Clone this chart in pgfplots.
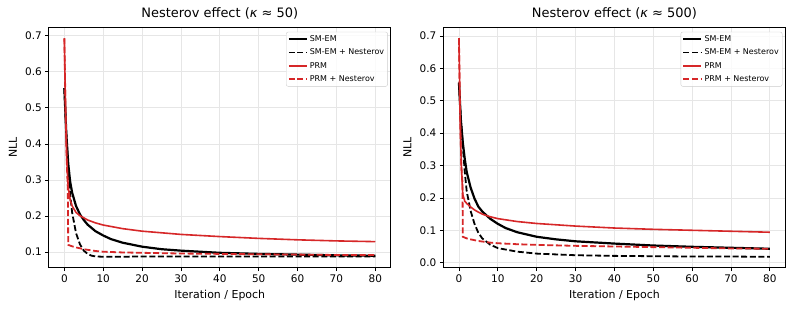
\documentclass[border=0pt]{standalone}
\usepackage{fontspec}
\setmainfont{DejaVu Sans}
\usepackage{pgfplots}
\pgfplotsset{compat=1.18}
\definecolor{tred}{HTML}{D62728}
\definecolor{gridc}{HTML}{E6E6E6}
\pgfplotsset{
  myaxis/.style={
    scale only axis, width=342bp, height=240.4bp,
    xmin=-4, xmax=84, xtick={0,10,...,80},
    axis line style={line width=0.8bp},
    tick style={line width=0.8bp, black},
    major tick length=3.5bp, tick align=outside, tick pos=left,
    grid=major, major grid style={line width=0.8bp, gridc},
    ticklabel style={font=\fontsize{10.5}{12}\selectfont},
    /pgf/number format/assume math mode=true,
    yticklabel style={/pgf/number format/fixed, /pgf/number format/fixed zerofill, /pgf/number format/precision=1},
    xlabel={Iteration / Epoch}, ylabel={NLL},
    label style={font=\fontsize{11}{13}\selectfont},
    xlabel style={at={(axis description cs:0.5,-0.115)}, anchor=center},
    ylabel style={at={(axis description cs:-0.105,0.5)}, anchor=center},
    title style={at={(axis description cs:0.5,1.058)}, anchor=center, yshift=-6pt, font=\fontsize{13}{15}\selectfont},
    legend cell align=left,
    legend style={at={(axis description cs:1,1)}, anchor=north east, xshift=-3bp, yshift=-4.5bp,
      draw=black!20, rounded corners=2bp, fill=white, fill opacity=0.8, text opacity=1,
      font=\fontsize{8}{9.5}\selectfont, inner xsep=1.5bp, inner ysep=1.5bp, row sep=2bp},
    legend image code/.code={\draw[##1, opacity=1] (0bp,0bp) -- (18bp,0bp);},
  },
  smem/.style={color=black, line width=2.2bp},
  smemn/.style={color=black, line width=1.8bp, dash pattern=on 6bp off 2.6bp},
  prm/.style={color=tred, line width=1.6bp},
  prmn/.style={color=tred, line width=1.8bp, dash pattern=on 6bp off 2.6bp},
}
\begin{document}
\begin{tikzpicture}
\path[use as bounding box] (0,0) rectangle (793bp,310bp);
\begin{axis}[myaxis, at={(48.8bp,42.3bp)}, anchor=south west,
  ymin=0.0567, ymax=0.7234, ytick={0.1,0.2,0.3,0.4,0.5,0.6,0.7},
  title={Nesterov effect (\textit{κ} ≈ 50)}]
\addplot[smem] coordinates {(0,0.555)(0.5,0.43)(1,0.345)(1.5,0.295)(2,0.265)(3,0.228)(4,0.205)(5,0.189)(6,0.176)(8,0.158)(10,0.146)(12,0.136)(15,0.126)(20,0.115)(25,0.108)(30,0.104)(40,0.098)(50,0.095)(60,0.093)(70,0.091)(80,0.090)};
\addlegendentry{SM-EM}
\addplot[smemn] coordinates {(0,0.555)(0.5,0.43)(1,0.33)(1.5,0.26)(2,0.21)(3,0.153)(4,0.122)(5,0.104)(6,0.095)(7,0.090)(8,0.088)(10,0.087)(15,0.087)(20,0.088)(40,0.088)(80,0.088)};
\addlegendentry{SM-EM + Nesterov}
\addplot[prm] coordinates {(0,0.693)(0.3,0.50)(0.6,0.36)(1,0.28)(1.5,0.245)(2,0.228)(3,0.210)(4,0.201)(5,0.195)(6,0.189)(8,0.181)(10,0.175)(15,0.165)(20,0.158)(30,0.149)(40,0.143)(50,0.138)(60,0.134)(70,0.131)(80,0.129)};
\addlegendentry{PRM}
\addplot[prmn] coordinates {(0,0.693)(0.3,0.50)(0.6,0.36)(0.9,0.27)(1.0,0.12)(2,0.116)(3,0.113)(5,0.108)(8,0.103)(10,0.101)(15,0.099)(20,0.098)(30,0.096)(40,0.095)(50,0.094)(60,0.093)(70,0.092)(80,0.092)};
\addlegendentry{PRM + Nesterov}
\end{axis}
\begin{axis}[myaxis, at={(443.4bp,42.3bp)}, anchor=south west,
  ymin=-0.0155, ymax=0.7268, ytick={0,0.1,0.2,0.3,0.4,0.5,0.6,0.7},
  title={Nesterov effect (\textit{κ} ≈ 500)}]
\addplot[smem] coordinates {(0,0.556)(0.5,0.44)(1,0.37)(1.5,0.32)(2,0.28)(3,0.232)(4,0.198)(5,0.173)(6,0.158)(8,0.136)(10,0.120)(12,0.107)(15,0.094)(20,0.080)(25,0.072)(30,0.066)(40,0.059)(50,0.053)(60,0.049)(70,0.046)(80,0.043)};
\addlegendentry{SM-EM}
\addplot[smemn] coordinates {(0,0.556)(0.5,0.44)(1,0.36)(1.5,0.28)(2,0.22)(3,0.16)(4,0.12)(5,0.092)(6,0.075)(8,0.056)(10,0.045)(15,0.034)(20,0.028)(30,0.023)(40,0.021)(50,0.020)(60,0.019)(70,0.019)(80,0.018)};
\addlegendentry{SM-EM + Nesterov}
\addplot[prm] coordinates {(0,0.693)(0.3,0.45)(0.6,0.30)(1,0.21)(1.5,0.19)(2,0.183)(3,0.172)(4,0.163)(5,0.156)(6,0.150)(8,0.142)(10,0.136)(15,0.127)(20,0.121)(30,0.113)(40,0.107)(50,0.103)(60,0.100)(70,0.097)(80,0.094)};
\addlegendentry{PRM}
\addplot[prmn] coordinates {(0,0.693)(0.3,0.45)(0.6,0.30)(0.9,0.25)(1.0,0.08)(2,0.075)(3,0.072)(5,0.067)(8,0.062)(10,0.060)(15,0.057)(20,0.055)(30,0.052)(40,0.050)(50,0.048)(60,0.046)(70,0.044)(80,0.043)};
\addlegendentry{PRM + Nesterov}
\end{axis}
\end{tikzpicture}
\end{document}
